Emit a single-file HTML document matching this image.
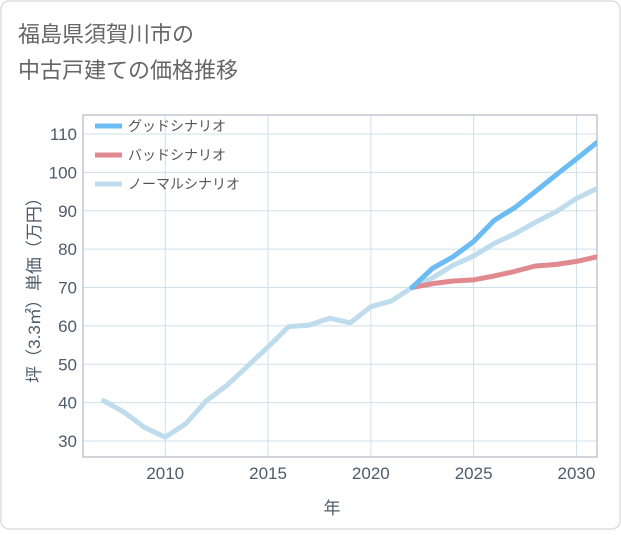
<!DOCTYPE html>
<html><head><meta charset="utf-8"><style>
body{margin:0;background:#fff;font-family:"Liberation Sans","Noto Sans CJK JP",sans-serif;}
#wrap{position:relative;width:621px;height:530px;}
</style></head><body>
<div id="wrap">
<svg id="svg" width="621" height="530" xmlns="http://www.w3.org/2000/svg">
<rect x="1" y="1" width="619" height="528" rx="8" fill="#fff" stroke="#ddd" stroke-width="1.5"/>
<text x="18" y="42" font-size="22" fill="#666">福島県須賀川市の</text>
<text x="18" y="78" font-size="22" fill="#666">中古戸建ての価格推移</text>
<g id="grid"></g>
<rect x="83" y="115" width="514" height="342" fill="none" stroke="#aab" stroke-width="1"/>
<g id="series"></g>
<g id="legend"></g>
<text x="332" y="514" font-size="17" fill="#4d5b6b" text-anchor="middle">年</text>
<text transform="translate(40,286) rotate(-90)" font-size="17" fill="#4d5b6b" text-anchor="middle">坪（3.3㎡）単価（万円）</text>
</svg>
</div>
<script>
const years=[2007,2008,2009,2010,2011,2012,2013,2014,2015,2016,2017,2018,2019,2020,2021,2022,2023,2024,2025,2026,2027,2028,2029,2030,2031];
const normal=[40.5,37.5,33.5,31,34.5,40.5,44.5,49.5,54.5,59.8,60.2,62,60.8,65,66.5,70,72.5,75.8,78.2,81.5,84,87,89.7,93.2,95.8];
const goodYears=[2022,2023,2024,2025,2026,2027,2028,2029,2030,2031];
const good=[70,75,78,82,87.5,90.8,95,99.3,103.5,107.8];
const bad=[70,71,71.7,72,73,74.2,75.6,76,76.8,78];
const xTicks=[2010,2015,2020,2025,2030];
const yTicks=[30,40,50,60,70,80,90,100,110];
const NS="http://www.w3.org/2000/svg";
const X=v=>83+(v-2006)*(514/25);
const Y=v=>441-(v-30)*(307/80);
const grid=document.getElementById('grid'),ser=document.getElementById('series'),leg=document.getElementById('legend');
function mk(tag,attrs,parent){const e=document.createElementNS(NS,tag);for(const k in attrs)e.setAttribute(k,attrs[k]);parent.appendChild(e);return e;}
xTicks.forEach(t=>{
 const l=mk('line',{x1:X(t),x2:X(t),y1:115,y2:457,stroke:'#cfe0ea'},grid);
 
 
 const tx=mk('text',{x:X(t),y:479,'font-size':17,fill:'#4d5b6b','text-anchor':'middle'},grid);tx.textContent=t;
 
 
});
yTicks.forEach(t=>{
 const l=mk('line',{x1:83,x2:597,y1:Y(t),y2:Y(t),stroke:'#cfe0ea'},grid);
 
 
 const tx=mk('text',{x:77,y:Y(t)+6,'font-size':17,fill:'#4d5b6b','text-anchor':'end'},grid);tx.textContent=t;
 
 
});
function line(xs,vs,color,name){
 const p=mk('polyline',{points:xs.map((x,i)=>X(x)+','+Y(vs[i])).join(' '),fill:'none',stroke:color,'stroke-width':5,'stroke-linejoin':'round','stroke-linecap':'round'},ser);
 
 
}
const cp=mk('clipPath',{id:'c'},ser);mk('rect',{x:83,y:115,width:514,height:342},cp);ser.setAttribute('clip-path','url(#c)');
line(years,normal,'#bfdcec','normal-scenario-line');
line(goodYears,bad,'#e08a90','bad-scenario-line');
line(goodYears,good,'#6bbcf2','good-scenario-line');
[['グッドシナリオ','#6bbcf2'],['バッドシナリオ','#e08a90'],['ノーマルシナリオ','#bfdcec']].forEach((d,i)=>{
 const y=126+i*29;
 const l=mk('line',{x1:95,x2:122,y1:y,y2:y,stroke:d[1],'stroke-width':5},leg);
 
 
 const t=mk('text',{x:128,y:y+5,'font-size':14,fill:'#555'},leg);t.textContent=d[0];
 
 
});
</script>
</body></html>
